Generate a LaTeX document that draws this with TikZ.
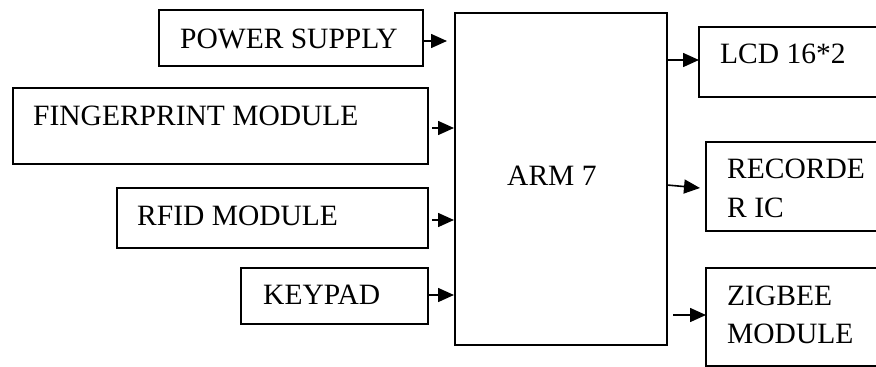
\documentclass[tikz,border=0pt]{standalone}
\usepackage{fontspec}
\setmainfont{Liberation Serif}
\usetikzlibrary{arrows.meta}
\begin{document}
\begin{tikzpicture}[x=1pt,y=-1pt,
  blk/.style={draw, line width=1.2pt, rectangle, inner sep=0pt, outer sep=0pt},
  lbl/.style={anchor=base west, inner sep=0pt, font=\fontsize{29.5}{35}\selectfont},
  arr/.style={line width=1.6pt, -{Triangle[length=16pt,width=14pt]}}]
\useasboundingbox (0,0) rectangle (876,367);
\clip (0,0) rectangle (876,367);
\fill[white] (0,0) rectangle (876,367);
% input blocks
\node[blk, minimum width=264pt, minimum height=56pt] (ps) at (291,38) {};
\node[blk, minimum width=415pt, minimum height=76pt] (fp) at (220.5,126) {};
\node[blk, minimum width=311pt, minimum height=60pt] (rfid) at (272.5,218) {};
\node[blk, minimum width=187pt, minimum height=56pt] (key) at (334.5,296) {};
% controller
\node[blk, minimum width=212pt, minimum height=332pt] (arm) at (561,179) {};
% output blocks
\node[blk, minimum width=201pt, minimum height=70pt] (lcd) at (799.5,62) {};
\node[blk, minimum width=194pt, minimum height=89pt] (rec) at (803,186.5) {};
\node[blk, minimum width=194pt, minimum height=98pt] (zig) at (803,317) {};
% labels
\node[lbl] (tps) at (180,48) {POWER SUPPLY};
\node[lbl] (tfp) at (33,125) {FINGERPRINT MODULE};
\node[lbl] (trfid) at (137,225) {RFID MODULE};
\node[lbl] (tkey) at (263,304) {KEYPAD};
\node[lbl] (tarm) at (507,185) {ARM 7};
\node[lbl] (tlcd) at (720,63) {LCD 16*2};
\node[lbl] (trec1) at (727,178) {RECORDE};
\node[lbl] (trec2) at (727,217) {R IC};
\node[lbl] (tzig1) at (727,305) {ZIGBEE};
\node[lbl] (tzig2) at (727,343) {MODULE};
% connectors
\draw[arr, shorten >=8pt] (ps.east |- 0,41) -- (arm.west |- 0,41);
\draw[arr, shorten <=4pt, shorten >=1pt] (fp.east |- 0,128) -- (arm.west |- 0,128);
\draw[arr, shorten <=4pt, shorten >=1pt] (rfid.east |- 0,220) -- (arm.west |- 0,220);
\draw[arr, shorten >=1pt] (key.east |- 0,295) -- (arm.west |- 0,295);
\draw[arr] (arm.east |- 0,60) -- (lcd.west |- 0,60);
\coordinate (rectip) at (700,188);
\draw[arr] (arm.east |- 0,185) -- (rectip);
\draw[arr, shorten <=6pt] (arm.east |- 0,315) -- (zig.west |- 0,315);
\end{tikzpicture}
\end{document}
